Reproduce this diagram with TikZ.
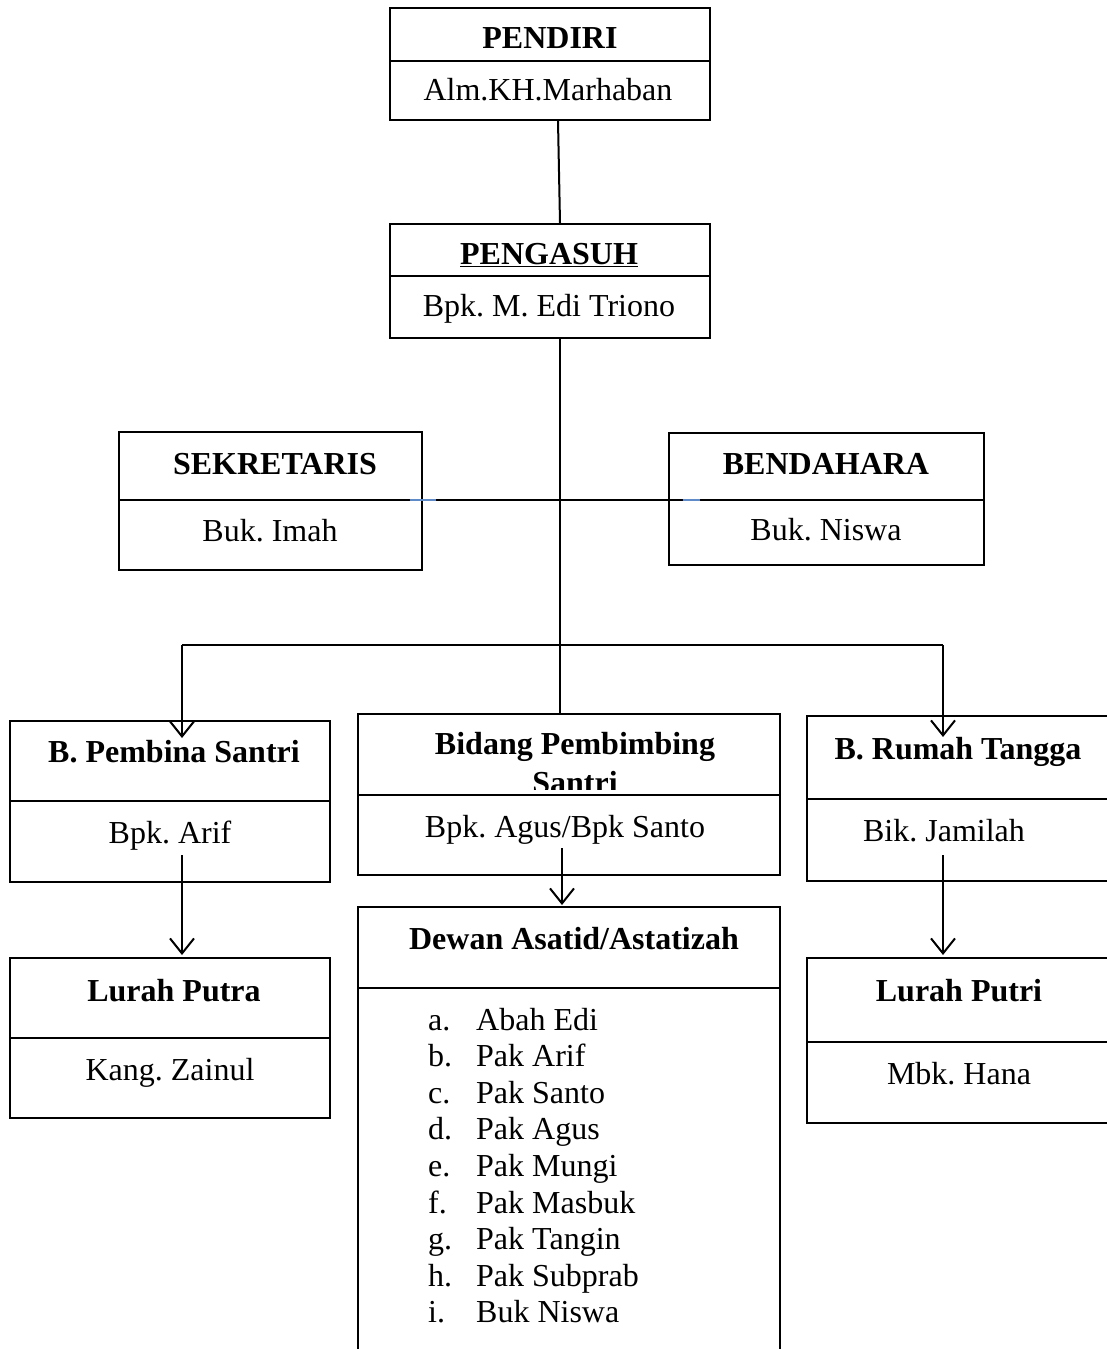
\documentclass[tikz,border=0pt]{standalone}
\usepackage{fontspec}
\setmainfont{Liberation Serif}
\frenchspacing
\usetikzlibrary{arrows.meta,calc}
\begin{document}
\begin{tikzpicture}[x=1pt,y=-1pt,
  box/.style={draw,line width=2pt,inner sep=0pt,rectangle},
  lbl/.style={anchor=base,inner sep=0pt,font=\fontsize{32}{38}\selectfont},
  ttl/.style={lbl,font=\fontsize{32}{38}\selectfont\bfseries},
  item/.style={anchor=base west,inner sep=0pt,font=\fontsize{32}{38}\selectfont},
  conn/.style={line width=2pt},
  arr/.style={line width=2pt,-{Straight Barb[length=15pt,width=24pt]}},
  divl/.style={line width=2pt}]
\useasboundingbox (0,0) rectangle (1106,1349);
\fill[white] (0,0) rectangle (1106,1349);

% boxes
\node[box,minimum width=320pt,minimum height=112pt] (pendiri) at (550,64) {};
\node[box,minimum width=320pt,minimum height=114pt] (pengasuh) at (550,281) {};
\node[box,minimum width=303pt,minimum height=138pt] (sek) at (270.5,501) {};
\node[box,minimum width=315pt,minimum height=132pt] (ben) at (826.5,499) {};
\node[box,minimum width=320pt,minimum height=161pt] (bps) at (170,801.5) {};
\node[box,minimum width=422pt,minimum height=161pt] (bid) at (569,794.5) {};
\node[box,minimum width=313pt,minimum height=165pt] (brt) at (963.5,798.5) {};
\node[box,minimum width=320pt,minimum height=160pt] (lpa) at (170,1038) {};
\node[box,minimum width=422pt,minimum height=463pt] (dew) at (569,1138.5) {};
\node[box,minimum width=313pt,minimum height=165pt] (lpi) at (963.5,1040.5) {};

% dividers
\draw[divl] (pendiri.west |- 0,61) -- (pendiri.east |- 0,61);
\draw[divl] (pengasuh.west |- 0,276) -- (pengasuh.east |- 0,276);
\draw[divl] (sek.west |- 0,500) -- (sek.east |- 0,500);
\draw[divl] (ben.west |- 0,500) -- (ben.east |- 0,500);
\draw[divl] (bps.west |- 0,801) -- (bps.east |- 0,801);
\draw[divl] (bid.west |- 0,795) -- (bid.east |- 0,795);
\draw[divl] (brt.west |- 0,799) -- (brt.east |- 0,799);
\draw[divl] (lpa.west |- 0,1038) -- (lpa.east |- 0,1038);
\draw[divl] (dew.west |- 0,988) -- (dew.east |- 0,988);
\draw[divl] (lpi.west |- 0,1042) -- (lpi.east |- 0,1042);

% texts
\node[ttl] (t1) at (550,48) {PENDIRI};
\node[lbl] (t2) at (548,100) {Alm.KH.Marhaban};
\node[ttl] (t3) at (549,264) {\underline{PENGASUH}};
\node[lbl] (t4) at (549,316) {Bpk. M. Edi Triono};
\node[ttl] (t5) at (275,474) {SEKRETARIS};
\node[lbl] (t6) at (270,541) {Buk. Imah};
\node[ttl] (t7) at (826,474) {BENDAHARA};
\node[lbl] (t8) at (826,540) {Buk. Niswa};
\node[ttl] (t9) at (174,762) {B. Pembina Santri};
\node[lbl] (t10) at (170,843) {Bpk. Arif};
\node[ttl] (t11) at (575,754) {Bidang Pembimbing};
\begin{scope}
\clip (358,714) rectangle (780,789);
\node[ttl] (t12) at (575,793) {Santri};
\end{scope}
\node[lbl] (t13) at (565,837) {Bpk. Agus/Bpk Santo};
\node[ttl] (t14) at (958,759) {B. Rumah Tangga};
\node[lbl] (t15) at (944,841) {Bik. Jamilah};
\node[ttl] (t16) at (574,949) {Dewan Asatid/Astatizah};
\node[ttl] (t17) at (174,1001) {Lurah Putra};
\node[lbl] (t18) at (170,1080) {Kang. Zainul};
\node[ttl] (t19) at (959,1001) {Lurah Putri};
\node[lbl] (t20) at (959,1084) {Mbk. Hana};

% list
\foreach \l/\n [count=\i from 0] in {a./Abah Edi,b./Pak Arif,c./Pak Santo,d./Pak Agus,e./Pak Mungi,f./Pak Masbuk,g./Pak Tangin,h./Pak Subprab,i./Buk Niswa}{
  \node[item] (la\i) at (428,1030+36.6*\i) {\l};
  \node[item] (ln\i) at (476,1030+36.6*\i) {\n};
}

% connectors
\draw[conn] ($(pendiri.south)+(8,0)$) -- ($(pengasuh.north)+(10,0)$);
\draw[conn] ($(pengasuh.south)+(10,0)$) -- ($(bid.north)+(-9,0)$);
\draw[conn] (sek.east |- 0,500) -- (ben.west |- 0,500);
\draw[line width=2pt,color={rgb,255:red,95;green,140;blue,200}] (410,500) -- (436,500);
\draw[line width=2pt,color={rgb,255:red,95;green,140;blue,200}] (683,500) -- (700,500);
\coordinate (bl) at (182,645);
\coordinate (br) at (943,645);
\coordinate (tl) at (182,738);
\coordinate (tr) at (943,737);
\draw[conn] (bl) -- (br);
\draw[arr] (bl) -- (tl);
\draw[arr] (br) -- (tr);
\coordinate (s1) at (182,855);
\coordinate (e1) at (182,955);
\draw[arr] (s1) -- (e1);
\coordinate (s2) at (562,848);
\coordinate (e2) at (562,905);
\draw[arr] (s2) -- (e2);
\coordinate (s3) at (943,855);
\coordinate (e3) at (943,955);
\draw[arr] (s3) -- (e3);
\end{tikzpicture}
\end{document}
